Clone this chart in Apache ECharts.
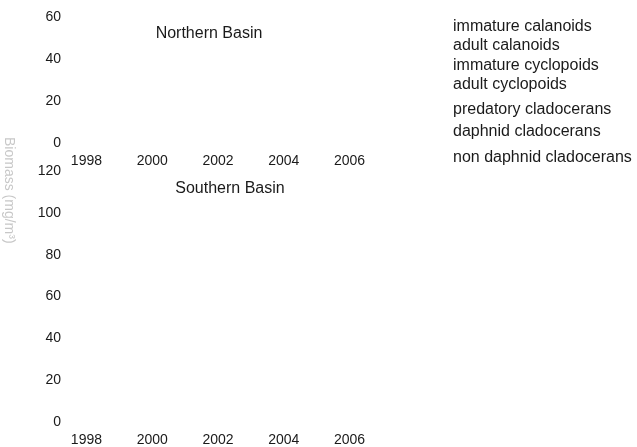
<!DOCTYPE html>
<html>
<head>
<meta charset="utf-8">
<script src="https://cdn.jsdelivr.net/npm/echarts@6/dist/echarts.min.js"></script>
<style>
    html, body { margin: 0; padding: 0; background: #fff; }
    #main { width: 637px; height: 447px; }
</style>
</head>
<body>
<div id="main"></div>
<script>
// 年份 (类目轴)
var years = ['1998', '1999', '2000', '2001', '2002', '2003', '2004', '2005', '2006'];
// 图例 / 系列名称
var groups = ['immature calanoids', 'adult calanoids', 'immature cyclopoids', 'adult cyclopoids',
    'predatory cladocerans', 'daphnid cladocerans', 'non daphnid cladocerans'];
// 图中没有画出任何柱子, 所以两个湖区的数据都是空的
var northData = [[], [], [], [], [], [], []];
var southData = [[], [], [], [], [], [], []];
// 图例每一项的纵向位置 (原图间距不均匀)
var legendTops = [19, 38, 58, 77, 102, 124, 150];

var myChart = echarts.init(document.getElementById('main'));
var txt = '#1a1a1a';
var font = 'Liberation Sans, Arial, sans-serif';

var series = [];
for (var i = 0; i < groups.length; i++) {
    series.push({ name: groups[i], type: 'bar', stack: 'n', xAxisIndex: 0, yAxisIndex: 0, data: northData[i] });
    series.push({ name: groups[i], type: 'bar', stack: 's', xAxisIndex: 1, yAxisIndex: 1, data: southData[i] });
}

var legends = [];
for (var j = 0; j < groups.length; j++) {
    legends.push({
        data: [groups[j]],
        left: 448,
        top: legendTops[j],
        icon: 'none',
        itemWidth: 0,
        itemHeight: 0,
        padding: 0,
        selectedMode: false,
        textStyle: { color: txt, fontSize: 16, fontFamily: font }
    });
}

function xAxis(idx) {
    return {
        type: 'category',
        gridIndex: idx,
        data: years,
        axisLine: { show: false },
        axisTick: { show: false },
        axisLabel: { interval: 1, color: txt, fontSize: 14, fontFamily: font, margin: 11 }
    };
}
function yAxis(idx, max) {
    return {
        type: 'value',
        gridIndex: idx,
        min: 0,
        max: max,
        interval: 20,
        axisLine: { show: false },
        axisTick: { show: false },
        splitLine: { show: false },
        axisLabel: { color: txt, fontSize: 14, fontFamily: font, margin: 9 }
    };
}

var option = {
    animation: false,
    title: [
        { text: 'Northern Basin', left: 204, top: 21, textAlign: 'center',
          textStyle: { color: txt, fontSize: 16, fontWeight: 'normal', fontFamily: font } },
        { text: 'Southern Basin', left: 225, top: 176, textAlign: 'center',
          textStyle: { color: txt, fontSize: 16, fontWeight: 'normal', fontFamily: font } }
    ],
    legend: legends,
    grid: [
        { left: 70, width: 296, top: 17, height: 126 },
        { left: 70, width: 296, top: 171, height: 252 }
    ],
    xAxis: [xAxis(0), xAxis(1)],
    yAxis: [yAxis(0, 60), yAxis(1, 120)],
    // 纵轴标题在原图里几乎看不见, 只画得很淡
    graphic: [{
        type: 'text',
        x: 16,
        y: 137,
        rotation: -Math.PI / 2,
        style: { text: 'Biomass (mg/m³)', fill: '#444', opacity: 0.3, font: '14px Liberation Sans' }
    }],
    series: series
};
myChart.setOption(option);
</script>
</body>
</html>
